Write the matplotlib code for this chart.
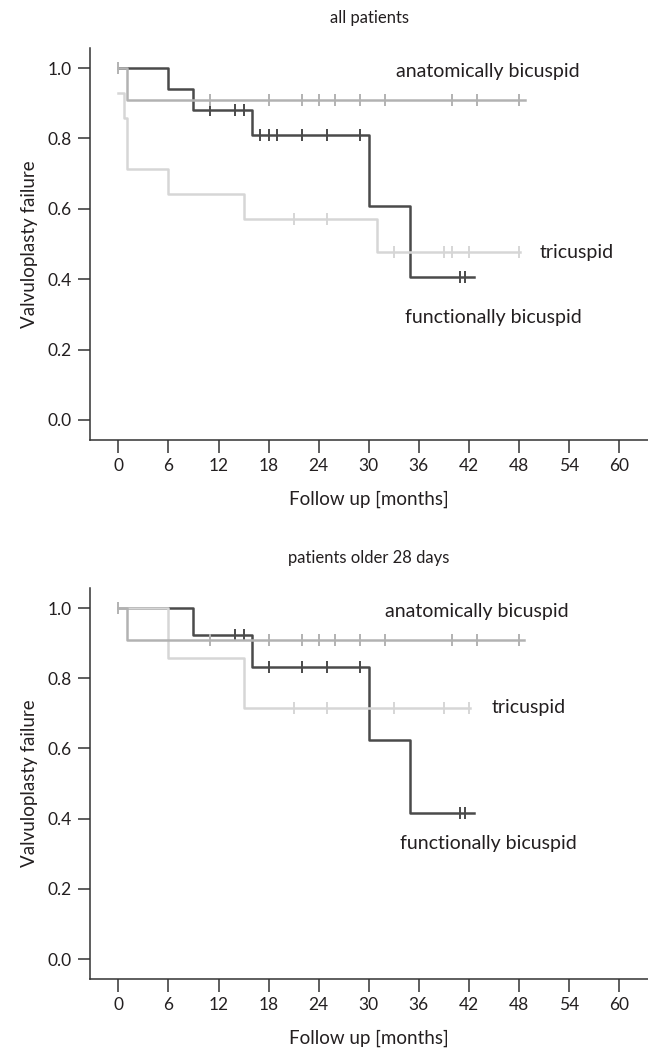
import numpy as np
import matplotlib.pyplot as plt

plt.rcParams['font.family'] = ['Lato', 'DejaVu Sans']
plt.rcParams['font.size'] = 12

# ----------------------------
# Data
# times = event times [months], surv = survival after each step
# ----------------------------
# all patients
all_func_t = [0, 6, 9, 16, 30, 35]
all_func_s = [1.0, 0.941, 0.882, 0.809, 0.607, 0.405]
all_func_end = 42.6
all_func_cens = [11, 14, 15, 17, 18, 19, 22, 25, 29, 41, 41.6]

all_anat_t = [0, 1]
all_anat_s = [1.0, 0.909]
all_anat_end = 48.8
all_anat_cens = [0, 11, 18, 22, 24, 26, 29, 32, 40, 43, 48]

all_tri_t = [0, 0.7, 1, 6, 15, 31]
all_tri_s = [0.929, 0.857, 0.714, 0.643, 0.571, 0.476]
all_tri_end = 48.2
all_tri_cens = [21, 25, 33, 39, 40, 42, 48]

# patients older 28 days
old_func_t = [0, 9, 16, 30, 35]
old_func_s = [1.0, 0.923, 0.831, 0.623, 0.415]
old_func_end = 42.6
old_func_cens = [14, 15, 18, 22, 25, 29, 41, 41.6]

old_anat_t = [0, 1]
old_anat_s = [1.0, 0.909]
old_anat_end = 48.6
old_anat_cens = [0, 11, 18, 22, 24, 26, 29, 32, 40, 43, 48]

old_tri_t = [0, 6, 15]
old_tri_s = [1.0, 0.857, 0.714]
old_tri_end = 42.2
old_tri_cens = [21, 25, 33, 39, 42]

x_ticks = [0, 6, 12, 18, 24, 30, 36, 42, 48, 54, 60]
y_ticks = [0.0, 0.2, 0.4, 0.6, 0.8, 1.0]

DARK = "#4a4a4a"
MID = "#b2b2b2"
LIGHT = "#d6d6d6"
TXT = "#231f20"


def draw_km(ax, times, surv, end, cens, color, z):
    t = list(times) + [end]
    s = list(surv) + [surv[-1]]
    ax.step(t, s, where="post", color=color, linewidth=1.8, zorder=z)
    idx = np.searchsorted(times, cens, side="right") - 1
    cs = np.asarray(surv)[idx]
    ax.plot(cens, cs, linestyle="none", marker="|", markersize=8,
            markeredgewidth=1.4, color=color, zorder=z)


def style_axes(ax, title):
    ax.set_xlim(-3.4, 63.5)
    ax.set_ylim(-0.057, 1.057)
    ax.set_xticks(x_ticks)
    ax.set_xticklabels([str(v) for v in x_ticks])
    ax.set_yticks(y_ticks)
    ax.set_yticklabels([f"{v:.1f}" for v in y_ticks])
    for side in ["top", "right"]:
        ax.spines[side].set_visible(False)
    for side in ["left", "bottom"]:
        ax.spines[side].set_color("#333333")
        ax.spines[side].set_linewidth(1.1)
    ax.tick_params(length=9, width=1.1, color="#333333", pad=4,
                   labelsize=12.5, labelcolor=TXT)
    ax.set_xlabel("Follow up [months]", fontsize=13.5, color=TXT, labelpad=12)
    ax.set_ylabel("Valvuloplasty failure", fontsize=13.5, color=TXT, labelpad=7)
    ax.set_title(title, fontsize=12, color=TXT, pad=18)


fig = plt.figure(figsize=(6.48, 10.49), dpi=100)
ax1 = fig.add_axes([0.139, 0.5805, 0.861, 0.3737])
ax2 = fig.add_axes([0.139, 0.0667, 0.861, 0.3727])

# ----------------------------
# Panel 1: all patients
# ----------------------------
draw_km(ax1, all_func_t, all_func_s, all_func_end, all_func_cens, DARK, 2)
draw_km(ax1, all_tri_t, all_tri_s, all_tri_end, all_tri_cens, LIGHT, 3)
draw_km(ax1, all_anat_t, all_anat_s, all_anat_end, all_anat_cens, MID, 4)
ax1.text(44.3, 0.989, "anatomically bicuspid", ha="center", va="center",
         fontsize=14, color=TXT)
ax1.text(50.5, 0.477, "tricuspid", ha="left", va="center",
         fontsize=14, color=TXT)
ax1.text(44.9, 0.29, "functionally bicuspid", ha="center", va="center",
         fontsize=14, color=TXT)
style_axes(ax1, "all patients")

# ----------------------------
# Panel 2: patients older 28 days
# ----------------------------
draw_km(ax2, old_func_t, old_func_s, old_func_end, old_func_cens, DARK, 2)
draw_km(ax2, old_tri_t, old_tri_s, old_tri_end, old_tri_cens, LIGHT, 3)
draw_km(ax2, old_anat_t, old_anat_s, old_anat_end, old_anat_cens, MID, 4)
ax2.text(43.0, 0.989, "anatomically bicuspid", ha="center", va="center",
         fontsize=14, color=TXT)
ax2.text(44.8, 0.716, "tricuspid", ha="left", va="center",
         fontsize=14, color=TXT)
ax2.text(44.3, 0.33, "functionally bicuspid", ha="center", va="center",
         fontsize=14, color=TXT)
style_axes(ax2, "patients older 28 days")

fig.savefig("out.png", dpi=100)
plt.close(fig)
